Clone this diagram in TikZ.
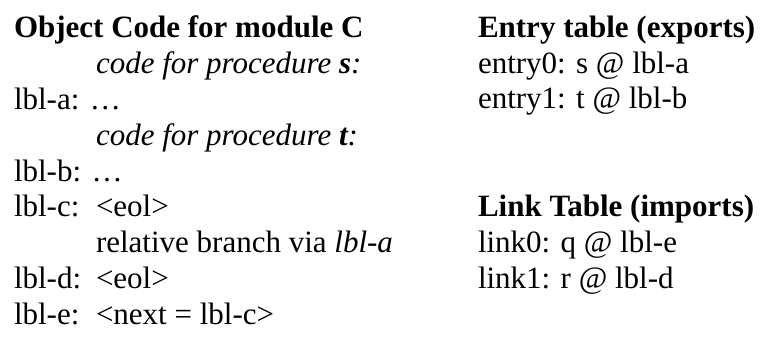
\documentclass[tikz,border=0pt]{standalone}
\usepackage{fontspec}
\setmainfont{Liberation Serif}
\begin{document}
\begin{tikzpicture}[x=1pt,y=-1pt,
  txt/.style={anchor=base west,inner sep=0pt,outer sep=0pt,font=\fontsize{31}{36}\selectfont},
  head/.style={txt,font=\fontsize{31}{36}\selectfont\bfseries}]
\useasboundingbox (0,0) rectangle (766,343);
% object code column
\node[head] (title) at (14,37) {Object Code for module C};
\node[txt] (cs) at (96,73) {\itshape code for procedure \textbf{s}:};
\node[txt] (la) at (14,109) {lbl-a: …};
\node[txt] (ct) at (96,145) {\itshape code for procedure \textbf{t}:};
\node[txt] (lb) at (14,181) {lbl-b: …};
\node[txt] (lc) at (14,216) {lbl-c:};
\node[txt] (lcv) at (96,216) {<eol>};
\node[txt] (rel) at (96,252) {relative branch via \textit{lbl-a}};
\node[txt] (ld) at (14,288) {lbl-d:};
\node[txt] (ldv) at (96,288) {<eol>};
\node[txt] (le) at (14,324) {lbl-e:};
\node[txt] (lev) at (96,324) {<next = lbl-c>};
% entry table
\node[head] (entry) at (478,37) {Entry table (exports)};
\node[txt] (e0) at (478,73) {entry0: s @ lbl-a};
\node[txt] (e1) at (478,108) {entry1: t @ lbl-b};
% link table
\node[head] (link) at (478,216) {Link Table (imports)};
\node[txt] (k0) at (478,252) {link0: q @ lbl-e};
\node[txt] (k1) at (478,288) {link1: r @ lbl-d};
\end{tikzpicture}
\end{document}
